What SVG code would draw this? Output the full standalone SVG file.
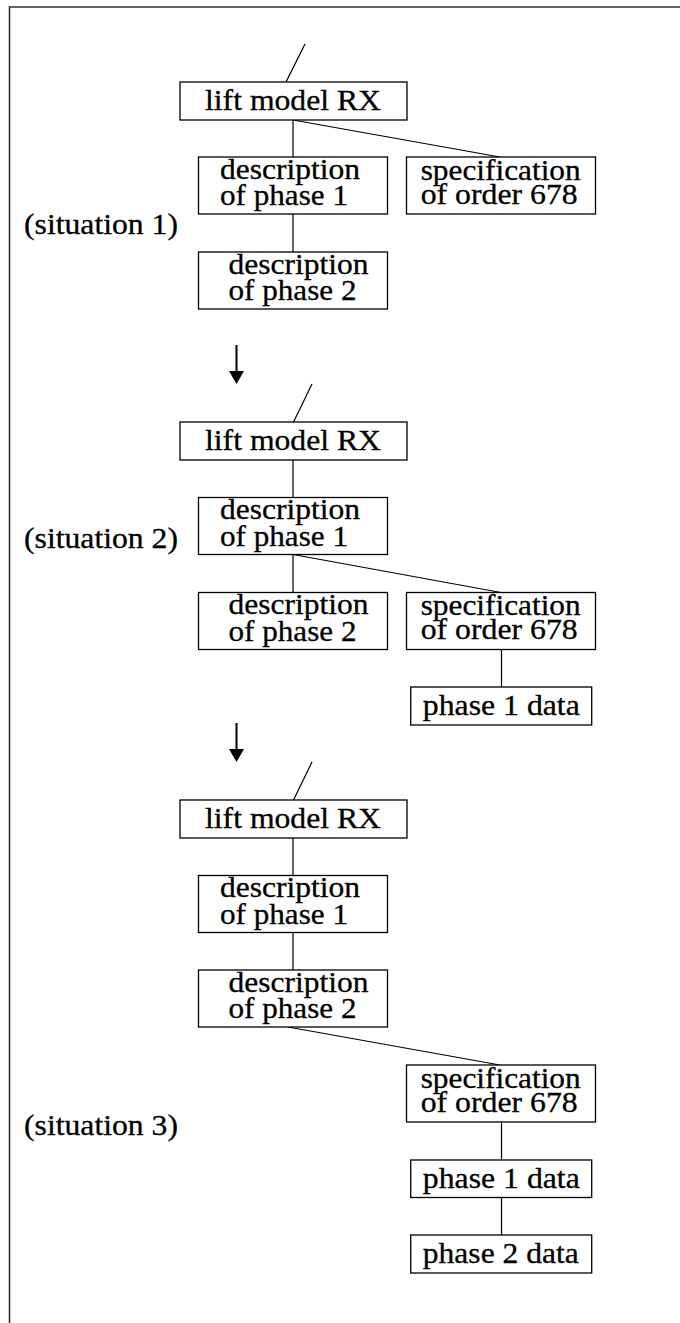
<svg xmlns="http://www.w3.org/2000/svg" width="680" height="1323" viewBox="0 0 680 1323">
<style>
.bx{fill:#fff;stroke:#000;stroke-width:1.3}
.ln{stroke:#000;stroke-width:1.2;fill:none}
.t{font-family:"Liberation Serif","Times New Roman",serif;font-size:28.5px;fill:#000;stroke:#000;stroke-width:0.3}
.ar{stroke:#000;stroke-width:2}
</style>
<rect width="680" height="1323" fill="#fff"/>
<path d="M9.5,1323 V7 H680" fill="none" stroke="#333" stroke-width="1.6"/>

<g id="connectors">
  <line class="ln" x1="305" y1="44" x2="286" y2="82"/>
  <line class="ln" x1="293" y1="120" x2="293" y2="157"/>
  <line class="ln" x1="293" y1="120" x2="500" y2="157"/>
  <line class="ln" x1="293" y1="214" x2="293" y2="252"/>

  <line class="ar" x1="236.5" y1="345" x2="236.5" y2="372"/>
  <polygon points="229,371 244,371 236.5,384" fill="#000"/>

  <line class="ln" x1="312" y1="384" x2="293.5" y2="422"/>
  <line class="ln" x1="293" y1="460" x2="293" y2="497.5"/>
  <line class="ln" x1="293" y1="554.5" x2="293" y2="592.5"/>
  <line class="ln" x1="293" y1="554.5" x2="501" y2="592.5"/>
  <line class="ln" x1="501.5" y1="649.5" x2="501.5" y2="687"/>

  <line class="ar" x1="236.5" y1="723" x2="236.5" y2="750"/>
  <polygon points="229,749 244,749 236.5,762" fill="#000"/>

  <line class="ln" x1="312" y1="762" x2="293.5" y2="800"/>
  <line class="ln" x1="293" y1="838" x2="293" y2="875.5"/>
  <line class="ln" x1="293" y1="932.5" x2="293" y2="970"/>
  <line class="ln" x1="288" y1="1027" x2="500" y2="1065"/>
  <line class="ln" x1="501.5" y1="1122" x2="501.5" y2="1160"/>
  <line class="ln" x1="501.5" y1="1197.5" x2="501.5" y2="1235"/>
</g>

<!-- situation 1 -->
<g id="s1-lift"><rect class="bx" x="180" y="82" width="227" height="38"/><text class="t" x="205" y="110" textLength="176" lengthAdjust="spacingAndGlyphs">lift model RX</text></g>
<g id="s1-desc1"><rect class="bx" x="198.5" y="157" width="189" height="57"/><text class="t" x="220" y="178.5" textLength="140" lengthAdjust="spacingAndGlyphs">description</text><text class="t" x="220" y="205" textLength="128" lengthAdjust="spacingAndGlyphs">of phase 1</text></g>
<g id="s1-spec"><rect class="bx" x="406.5" y="157" width="189" height="57"/><text class="t" x="420.7" y="179.5" textLength="160" lengthAdjust="spacingAndGlyphs">specification</text><text class="t" x="420.7" y="203.7" textLength="157" lengthAdjust="spacingAndGlyphs">of order 678</text></g>
<g id="s1-desc2"><rect class="bx" x="198.5" y="252" width="189" height="57"/><text class="t" x="228.5" y="273.7" textLength="140" lengthAdjust="spacingAndGlyphs">description</text><text class="t" x="228.5" y="300.3" textLength="128" lengthAdjust="spacingAndGlyphs">of phase 2</text></g>
<g id="s1-label"><text class="t" x="24" y="234" textLength="154" lengthAdjust="spacingAndGlyphs">(situation 1)</text></g>

<!-- situation 2 -->
<g id="s2-lift"><rect class="bx" x="180" y="422" width="227" height="38"/><text class="t" x="205" y="450" textLength="176" lengthAdjust="spacingAndGlyphs">lift model RX</text></g>
<g id="s2-desc1"><rect class="bx" x="198.5" y="497.5" width="189" height="57"/><text class="t" x="220" y="519" textLength="140" lengthAdjust="spacingAndGlyphs">description</text><text class="t" x="220" y="545.5" textLength="128" lengthAdjust="spacingAndGlyphs">of phase 1</text></g>
<g id="s2-desc2"><rect class="bx" x="198.5" y="592.5" width="189" height="57"/><text class="t" x="228.5" y="614.2" textLength="140" lengthAdjust="spacingAndGlyphs">description</text><text class="t" x="228.5" y="640.8" textLength="128" lengthAdjust="spacingAndGlyphs">of phase 2</text></g>
<g id="s2-spec"><rect class="bx" x="406.5" y="592.5" width="189" height="57"/><text class="t" x="420.7" y="615" textLength="160" lengthAdjust="spacingAndGlyphs">specification</text><text class="t" x="420.7" y="639.2" textLength="157" lengthAdjust="spacingAndGlyphs">of order 678</text></g>
<g id="s2-p1data"><rect class="bx" x="410.7" y="687" width="181" height="38"/><text class="t" x="422.8" y="715" textLength="157" lengthAdjust="spacingAndGlyphs">phase 1 data</text></g>
<g id="s2-label"><text class="t" x="24" y="548" textLength="154" lengthAdjust="spacingAndGlyphs">(situation 2)</text></g>

<!-- situation 3 -->
<g id="s3-lift"><rect class="bx" x="180" y="800" width="227" height="38"/><text class="t" x="205" y="828" textLength="176" lengthAdjust="spacingAndGlyphs">lift model RX</text></g>
<g id="s3-desc1"><rect class="bx" x="198.5" y="875.5" width="189" height="57"/><text class="t" x="220" y="897" textLength="140" lengthAdjust="spacingAndGlyphs">description</text><text class="t" x="220" y="923.5" textLength="128" lengthAdjust="spacingAndGlyphs">of phase 1</text></g>
<g id="s3-desc2"><rect class="bx" x="198.5" y="970" width="189" height="57"/><text class="t" x="228.5" y="991.7" textLength="140" lengthAdjust="spacingAndGlyphs">description</text><text class="t" x="228.5" y="1018.3" textLength="128" lengthAdjust="spacingAndGlyphs">of phase 2</text></g>
<g id="s3-spec"><rect class="bx" x="406.5" y="1065" width="189" height="57"/><text class="t" x="420.7" y="1087.7" textLength="160" lengthAdjust="spacingAndGlyphs">specification</text><text class="t" x="420.7" y="1111.7" textLength="157" lengthAdjust="spacingAndGlyphs">of order 678</text></g>
<g id="s3-p1data"><rect class="bx" x="410.7" y="1160" width="181" height="37.5"/><text class="t" x="422.8" y="1188" textLength="157" lengthAdjust="spacingAndGlyphs">phase 1 data</text></g>
<g id="s3-p2data"><rect class="bx" x="410.7" y="1235" width="181" height="38"/><text class="t" x="422.8" y="1263" textLength="156" lengthAdjust="spacingAndGlyphs">phase 2 data</text></g>
<g id="s3-label"><text class="t" x="24" y="1134.5" textLength="154" lengthAdjust="spacingAndGlyphs">(situation 3)</text></g>
</svg>
